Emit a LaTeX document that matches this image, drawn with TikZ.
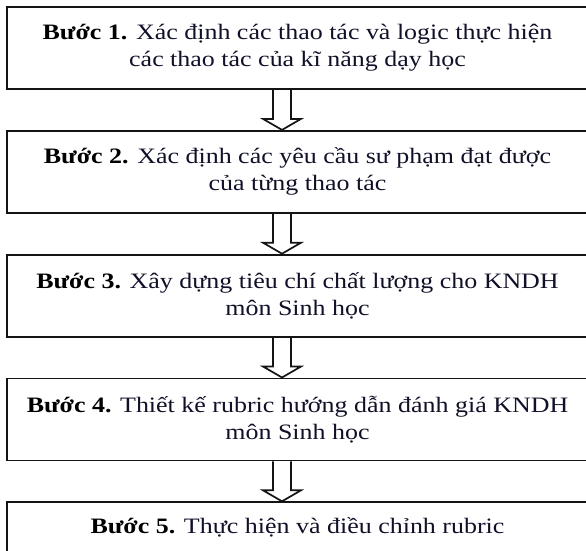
\documentclass[tikz,border=0pt]{standalone}
\usepackage{fontspec}
\newfontfamily\stepfont[FakeStretch=1.18]{Liberation Serif}
\usetikzlibrary{positioning,calc}
\definecolor{ink}{HTML}{101028}
\definecolor{frame}{HTML}{141414}
\newcommand\stepno[1]{\textcolor{black}{\textbf{Bước #1.}}}
\tikzset{
  stepbox/.style   = {draw=frame, line width=1.8pt, minimum width=581pt,
                      minimum height=82pt, inner sep=0pt, align=center,
                      text=ink, font=\stepfont\fontsize{22}{27}\selectfont},
  downarrow/.style = {draw=frame, line width=1.7pt, line join=miter,
                      to path={let \p1=(\tikztostart), \p2=(\tikztotarget) in
                        (\x1-9pt,\y1) -- (\x1-9pt,\y2+11pt) -- (\x1-19pt,\y2+11pt)
                        -- (\x1,\y2) -- (\x1+19pt,\y2+11pt) -- (\x1+9pt,\y2+11pt)
                        -- (\x1+9pt,\y1)}},
}
\begin{document}
\begin{tikzpicture}[x=1pt,y=-1pt]
  \useasboundingbox (0,0) rectangle (586,550);
  \node[stepbox] (b1) at (297.5,48)
    {\stepno{1} Xác định các thao tác và logic thực hiện\\các thao tác của kĩ năng dạy học};
  \node[stepbox,below=40pt of b1] (b2)
    {\stepno{2} Xác định các yêu cầu sư phạm đạt được\\của từng thao tác};
  \node[stepbox,below=40pt of b2] (b3)
    {\stepno{3} Xây dựng tiêu chí chất lượng cho KNDH\\môn Sinh học};
  \node[stepbox,below=40pt of b3] (b4)
    {\stepno{4} Thiết kế rubric hướng dẫn đánh giá KNDH\\môn Sinh học};
  \node[stepbox,below=40pt of b4] (b5)
    {\stepno{5} Thực hiện và điều chỉnh rubric\\\strut};
  \foreach \a/\b in {b1/b2,b2/b3,b3/b4,b4/b5}
    \draw[downarrow] ([xshift=-15.5pt]\a.south) to ([xshift=-15.5pt]\b.north);
\end{tikzpicture}
\end{document}
